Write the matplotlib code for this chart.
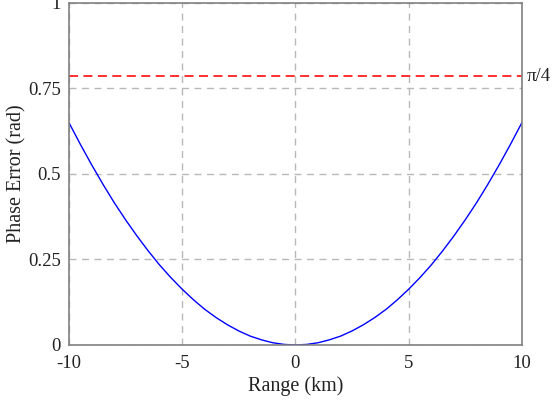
import numpy as np
import matplotlib.pyplot as plt

plt.rcParams['font.family'] = ['Liberation Serif', 'DejaVu Serif']
plt.rcParams['axes.unicode_minus'] = False

# phase error curve
range_km = [-10, -9.5, -9, -8.5, -8, -7.5, -7, -6.5, -6, -5.5, -5, -4.5, -4, -3.5, -3,
            -2.5, -2, -1.5, -1, -0.5, 0, 0.5, 1, 1.5, 2, 2.5, 3, 3.5, 4, 4.5, 5,
            5.5, 6, 6.5, 7, 7.5, 8, 8.5, 9, 9.5, 10]
phase_err = [0.650, 0.587, 0.527, 0.470, 0.416, 0.366, 0.319, 0.275, 0.234, 0.197, 0.163,
             0.132, 0.104, 0.080, 0.059, 0.041, 0.026, 0.015, 0.0065, 0.0016, 0.0,
             0.0016, 0.0065, 0.015, 0.026, 0.041, 0.059, 0.080, 0.104, 0.132, 0.163,
             0.197, 0.234, 0.275, 0.319, 0.366, 0.416, 0.470, 0.527, 0.587, 0.650]
limit = np.pi / 4

xticks = [-10, -5, 0, 5, 10]
xticklabels = ['-10', '-5', '0', '5', '10']
yticks = [0, 0.25, 0.5, 0.75, 1]
yticklabels = ['0', '0.25', '0.5', '0.75', '1']

fig = plt.figure(figsize=(5.54, 4.03), dpi=100)
ax = fig.add_axes([0.1245, 0.144, 0.8175, 0.8486])

ax.plot(range_km, phase_err, color='#0000ff', lw=1.0)
ax.axhline(limit, color='#ff2020', lw=1.3, ls=(0, (5, 3)))
ax.text(10.22, limit, 'π/4', va='center', ha='left', fontsize=13.5, color='#222222')

ax.set_xlim(-10, 10)
ax.set_ylim(0, 1)
ax.set_xticks(xticks)
ax.set_xticklabels(xticklabels)
ax.set_yticks(yticks)
ax.set_yticklabels(yticklabels)
ax.tick_params(length=0, labelsize=13.5, colors='#222222')
ax.tick_params(axis='x', pad=7)
ax.tick_params(axis='y', pad=6)

ax.grid(True, color='#b8b8b8', ls=(0, (5, 4)), lw=1.0)
for s in ax.spines.values():
    s.set_color('#808080')
    s.set_linewidth(1.2)

ax.set_xlabel('Range (km)', fontsize=14.5, color='#222222', labelpad=3)
ax.set_ylabel('Phase Error (rad)', fontsize=14.5, color='#222222')
ax.yaxis.set_label_coords(-0.094, 0.5)

fig.savefig('out.png', dpi=100)
